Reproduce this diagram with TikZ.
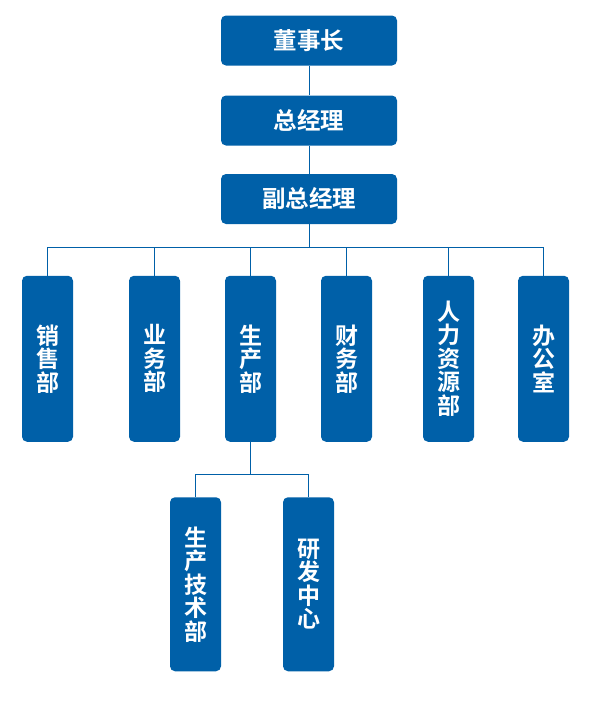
\documentclass[tikz,border=0pt]{standalone}
\usepackage{fontspec}
\newfontfamily\cjk{Noto Sans CJK SC}[BoldFont={Noto Sans CJK SC Bold}]
\usepackage{xcolor}
\usepackage{tikz}
\usetikzlibrary{positioning}
\definecolor{orgblue}{RGB}{0,96,168}

\begin{document}
\begin{tikzpicture}[
    x=1pt, y=1pt,
    head/.style={draw=none, fill=orgblue, rounded corners=5pt, text=white, minimum width=176pt, minimum height=50pt, inner sep=0pt, font=\cjk\bfseries\fontsize{23.5}{25}\selectfont},
    dept/.style={draw=none, fill=orgblue, rounded corners=5pt, text=white, minimum width=51pt, minimum height=166pt, inner sep=0pt, align=center, font=\cjk\bfseries\fontsize{23}{23.5}\selectfont},
    subdept/.style={dept, minimum height=174pt},
    link/.style={draw=orgblue, line width=1pt}
]
\useasboundingbox (0,0) rectangle (592,-710);

\node[head] (ceo) at (309,-40.5) {董事长};
\node[head] (gm) at (309,-120.5) {总经理};
\node[head] (vgm) at (309,-199) {副总经理};

\node[dept] (sales) at (47.5,-358.75) {销\\售\\部};
\node[dept] (biz) at (154.5,-358.75) {业\\务\\部};
\node[dept] (prod) at (250.5,-358.75) {生\\产\\部};
\node[dept] (fin) at (346.5,-358.75) {财\\务\\部};
\node[dept] (hr) at (448.5,-358.75) {人\\力\\资\\源\\部};
\node[dept] (office) at (543.5,-358.75) {办\\公\\室};

\node[subdept] (tech) at (195.5,-584.25) {生\\产\\技\\术\\部};
\node[subdept] (rnd) at (308.5,-584.25) {研\\发\\中\\心};

\coordinate (bus) at (0,-247);
\coordinate (subbus) at (0,-474);

\draw[link] (ceo) -- (gm);
\draw[link] (gm) -- (vgm);
\draw[link] (vgm.south) -- (vgm.south |- bus);
\draw[link] (sales.north |- bus) -- (office.north |- bus);
\foreach \d in {sales,biz,prod,fin,hr,office}
  \draw[link] (\d.north |- bus) -- (\d.north);

\draw[link] (prod.south) -- (prod.south |- subbus);
\draw[link] (tech.north |- subbus) -- (rnd.north |- subbus);
\draw[link] (tech.north |- subbus) -- (tech.north);
\draw[link] (rnd.north |- subbus) -- (rnd.north);
\end{tikzpicture}
\end{document}
